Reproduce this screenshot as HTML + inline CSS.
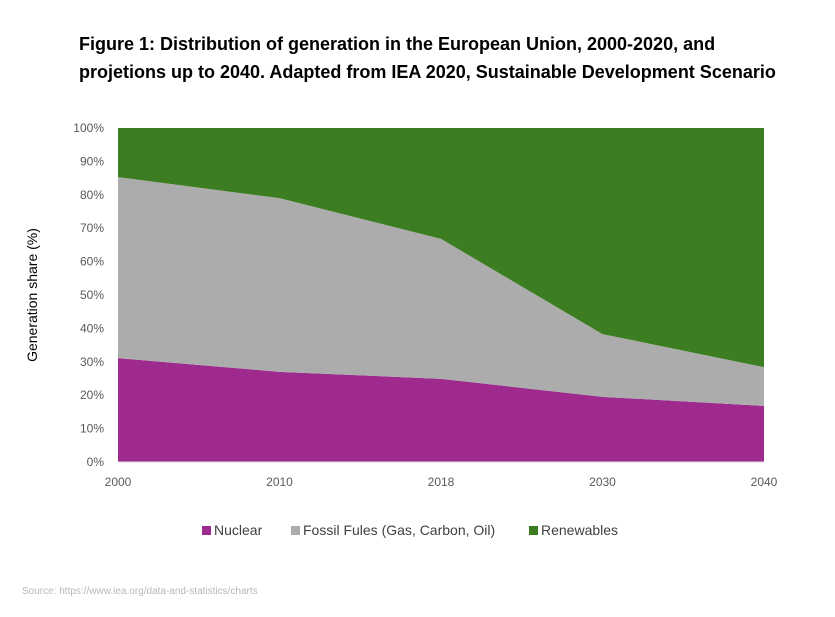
<!DOCTYPE html>
<html><head><meta charset="utf-8">
<style>
body{margin:0;background:#fff;font-family:"Liberation Sans",sans-serif;}
#wrap{position:relative;width:835px;height:617px;overflow:hidden;background:#fff;}
.title{position:absolute;left:79px;top:30px;font-weight:bold;font-size:18px;line-height:28px;color:#000;white-space:nowrap;}
.src{position:absolute;left:22px;top:586px;font-size:10px;color:#b8b8b8;}
</style></head><body>
<div id="wrap">
<div class="title">Figure 1: Distribution of generation in the European Union, 2000-2020, and<br>projetions up to 2040. Adapted from IEA 2020, Sustainable Development Scenario</div>
<svg id="chart" width="835" height="617" style="position:absolute;left:0;top:0"></svg>
<div class="src">Source: https://www.iea.org/data-and-statistics/charts</div>
</div>
<script>
const categories=["2000","2010","2018","2030","2040"];
const nuclear=[31.1,27.0,24.9,19.5,16.8];
const fossil=[54.2,52.0,41.9,18.8,11.6];
const renewables=[14.7,21.0,33.2,61.7,71.6];
const yTicks=[0,10,20,30,40,50,60,70,80,90,100];
const seriesNames=["Nuclear","Fossil Fules (Gas, Carbon, Oil)","Renewables"];
const colors=["#9e2a8e","#acacac","#3c7d22"];

const svg=document.getElementById('chart');
const NS='http://www.w3.org/2000/svg';
const x0=118,x1=764,yTop=128,yBot=462;
const xs=i=>x0+i*(x1-x0)/(categories.length-1);
const ys=v=>yBot-v/100*(yBot-yTop);
function mk(t,a){const e=document.createElementNS(NS,t);for(const k in a)e.setAttribute(k,a[k]);svg.appendChild(e);return e;}
const series=[nuclear,fossil,renewables];
let base=categories.map(()=>0);
series.forEach((s,si)=>{
  const top=base.map((b,i)=>b+s[i]);
  let pts=top.map((v,i)=>xs(i)+','+ys(Math.min(v,100)));
  for(let i=categories.length-1;i>=0;i--)pts.push(xs(i)+','+ys(base[i]));
  const p=mk('polygon',{points:pts.join(' '),fill:colors[si]});
  
  
  base=top;
});
mk('line',{x1:x0,y1:yBot,x2:x1,y2:yBot,stroke:'#d9d9d9','stroke-width':1});
yTicks.forEach(v=>{
  const t=mk('text',{x:104,y:ys(v)+4,'text-anchor':'end','font-size':12,fill:'#595959','font-family':'Liberation Sans, sans-serif'});
  t.textContent=v+'%';
  
  
});
categories.forEach((c,i)=>{
  const t=mk('text',{x:xs(i),y:486,'text-anchor':'middle','font-size':12,fill:'#595959','font-family':'Liberation Sans, sans-serif'});
  t.textContent=c;
  
  
});
const yt=mk('text',{x:0,y:0,transform:'translate(37,295) rotate(-90)','text-anchor':'middle','font-size':14,fill:'#000','font-family':'Liberation Sans, sans-serif'});
yt.textContent='Generation share (%)';


const lx=[202,291,529];
seriesNames.forEach((n,i)=>{
  const r=mk('rect',{x:lx[i],y:526,width:9,height:9,fill:colors[i]});
  
  
  const t=mk('text',{x:lx[i]+12,y:535,'font-size':14,fill:'#404040','font-family':'Liberation Sans, sans-serif'});
  t.textContent=n;
  
  
});
</script>
</body></html>
